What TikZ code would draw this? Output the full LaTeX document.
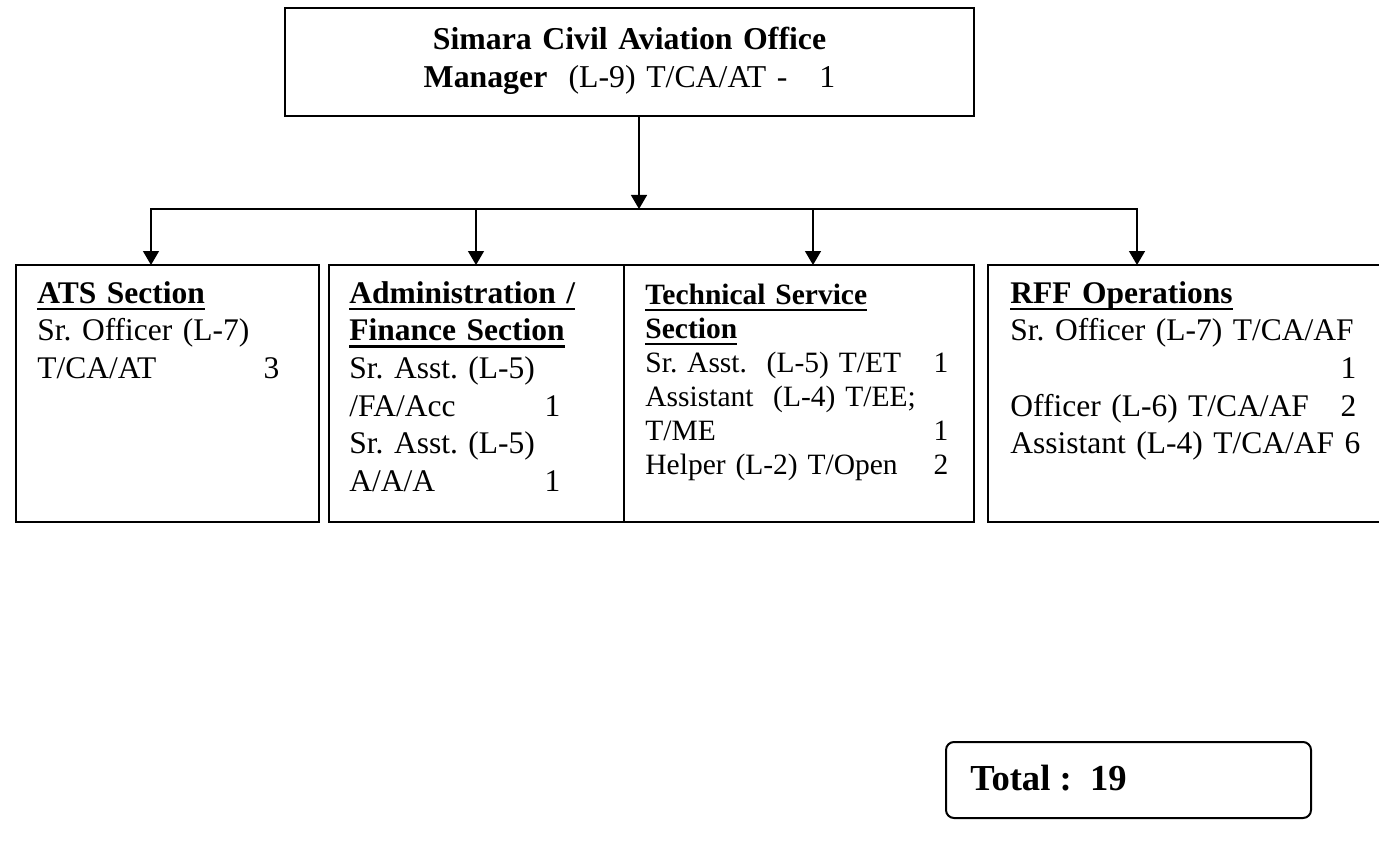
\documentclass[tikz,border=0pt]{standalone}
\usepackage{fontspec}
\setmainfont{Liberation Serif}
\usepackage{tikz}
\usetikzlibrary{positioning,arrows.meta}
\newcommand\staff[1]{\leavevmode\null\hfill#1}
\newcommand\secthead[1]{\leavevmode\setbox0\hbox{\bfseries#1}\rlap{\rule[-3.6pt]{\wd0}{1.3pt}}\box0}
\frenchspacing

\begin{document}
\begin{tikzpicture}[x=0.5pt,y=-0.5pt,
  box/.style={rectangle,draw=black,line width=1pt,outer sep=0pt,inner sep=0pt},
  secbox/.style={box,minimum width=#1,minimum height=128.5pt},
  body/.style={anchor=base west,inner sep=0pt,align=left,font=\fontsize{15.75}{18.85}\selectfont},
  small/.style={body,font=\fontsize{14.75}{17}\selectfont},
  arrow/.style={-{Triangle[width=8pt,length=7pt]},line width=0.7pt},
  bus/.style={line width=1pt,line cap=rect}
  ]
  \useasboundingbox (0,0) rectangle (1379,866);

  \node[box,line width=1.2pt,minimum width=344.5pt,minimum height=54pt,anchor=north west] (head) at (285,8) {};
  \node[anchor=base,inner sep=0pt,text width=340pt,align=center,font=\fontsize{15.9}{19}\selectfont] (headtxt) at ([shift={(0,42)}]head.north)
    {\textbf{Simara Civil Aviation Office}\\ \textbf{Manager}~~(L-9) T/CA/AT -~~~1};

  \node[secbox=151.5pt,anchor=north west] (ats) at (16,265) {};
  \node[secbox=147.5pt,right=5pt of ats] (admin) {};
  \node[secbox=175pt,right=0pt of admin] (tech) {};
  \node[secbox=196pt,right=7pt of tech] (rff) {};

  \node[body,text width=121pt] (atstxt) at ([shift={(21,38)}]ats.north west)
    {\secthead{ATS Section}\\ Sr. Officer (L-7)\\ T/CA/AT\staff{3}};
  \node[body,text width=105.5pt] (admintxt) at ([shift={(20,38)}]admin.north west)
    {\secthead{Administration~/}\\ \secthead{Finance Section}\\ Sr. Asst. (L-5)\\ /FA/Acc\staff{1}\\ Sr. Asst. (L-5)\\ A/A/A\staff{1}};
  \node[small,text width=151.5pt] (techtxt) at ([shift={(21,39)}]tech.north west)
    {\secthead{Technical Service}\\ \secthead{Section}\\ Sr. Asst.~~(L-5) T/ET\staff{1}\\ Assistant~~(L-4) T/EE;\\ T/ME\staff{1}\\ Helper (L-2) T/Open\staff{2}};
  \node[body,text width=173pt] (rfftxt) at ([shift={(22,38)}]rff.north west)
    {\secthead{RFF Operations}\\ Sr. Officer (L-7) T/CA/AF\\ \staff{1}\\ Officer (L-6) T/CA/AF\staff{2}\\ \mbox{Assistant (L-4) T/CA/AF 6}};

  \node[box,rounded corners=4pt,minimum width=182.5pt,minimum height=38pt,anchor=north west] (total) at (946,742) {};
  \node[anchor=base west,inner sep=0pt,font=\fontsize{18.3}{22}\selectfont\bfseries] (totaltxt) at ([shift={(24,48)}]total.north west) {Total :~~19};

  % branching line under the manager
  \coordinate (split) at (639,209);
  \coordinate (tapA) at (151,209);
  \coordinate (tapB) at (476,209);
  \coordinate (tapC) at (813,209);
  \coordinate (tapD) at (1137,209);

  \draw[arrow] (head.south -| split) -- (split);
  \draw[bus] (tapA) -- (tapD);
  \draw[arrow] (tapA) -- (tapA |- ats.north);
  \draw[arrow] (tapB) -- (tapB |- admin.north);
  \draw[arrow] (tapC) -- (tapC |- tech.north);
  \draw[arrow] (tapD) -- (tapD |- rff.north);
\end{tikzpicture}
\end{document}
